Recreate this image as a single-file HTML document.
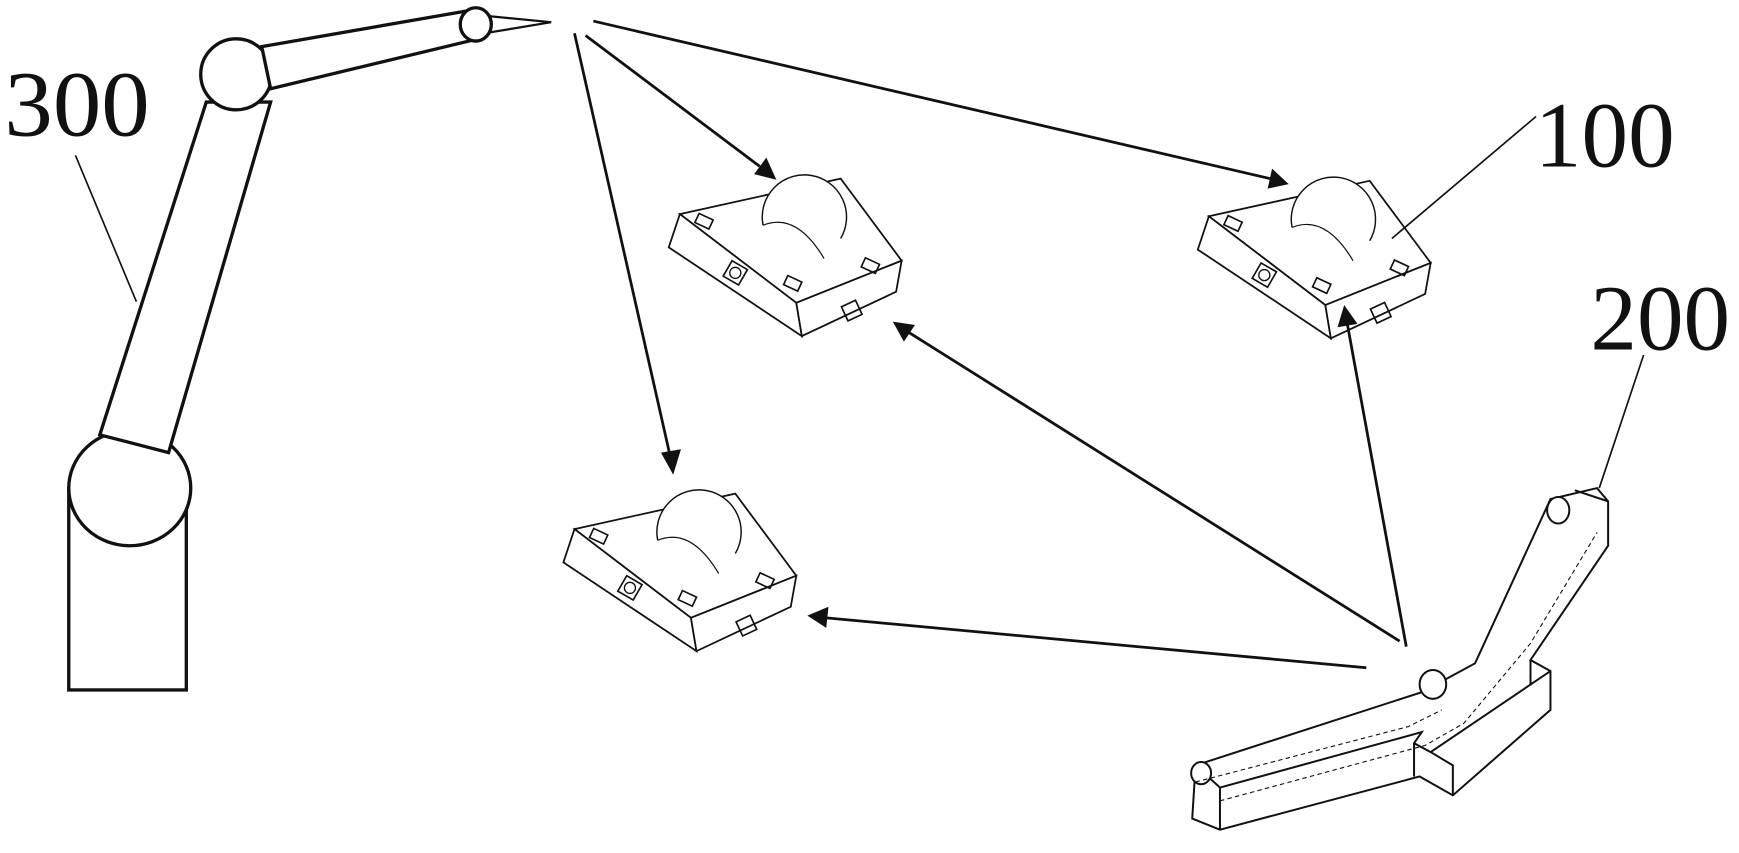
<!DOCTYPE html>
<html><head><meta charset="utf-8"><style>
html,body{margin:0;padding:0;background:#fff;}
svg{display:block;}
text{font-family:"Liberation Serif",serif;fill:#111;}
</style></head><body>
<svg width="1739" height="853" viewBox="0 0 1568 769" preserveAspectRatio="none" xmlns="http://www.w3.org/2000/svg">
<defs>
<g id="dev">
 <polygon points="0,0 145,-32 200,42 105,80" fill="#fff" stroke="#111" stroke-width="1.6"/>
 <polygon points="0,0 105,80 110,110 -10,30" fill="#fff" stroke="#111" stroke-width="1.6"/>
 <polygon points="105,80 200,42 195,70 110,110" fill="#fff" stroke="#111" stroke-width="1.6"/>
 <path d="M75,10 A38,38 0 1 1 145,22" fill="#fff" stroke="#111" stroke-width="1.3"/>
 <path d="M75,10 Q105,-2 130,40" fill="none" stroke="#111" stroke-width="1.1"/>
 <rect x="15" y="2" width="14" height="9" fill="none" stroke="#111" stroke-width="1.5" transform="rotate(25 22 6)"/>
 <rect x="95" y="58" width="14" height="9" fill="none" stroke="#111" stroke-width="1.5" transform="rotate(25 102 62)"/>
 <rect x="165" y="42" width="14" height="9" fill="none" stroke="#111" stroke-width="1.5" transform="rotate(25 172 46)"/>
 <rect x="42" y="45" width="16" height="16" fill="none" stroke="#111" stroke-width="1.5" transform="rotate(30 50 53)"/>
 <circle cx="50" cy="53" r="5" fill="none" stroke="#111" stroke-width="1.2"/>
 <rect x="148" y="80" width="14" height="14" fill="none" stroke="#111" stroke-width="1.5" transform="rotate(-25 155 87)"/>
</g>
</defs>

<g fill="#fff" stroke="#111" stroke-width="3">
 <rect x="62" y="440" width="106" height="182"/>
 <ellipse cx="117" cy="440" rx="55" ry="52"/>
 <polygon points="186,92 244,92 152,408 90,392"/>
 <circle cx="213" cy="67" r="32"/>
 <polygon points="236,42 420,10 427,36 244,80"/>
 <polygon points="435,14 497,20 437,30" stroke-width="2"/>
 <ellipse cx="429" cy="22" rx="14" ry="15"/>
</g>
<text x="0" y="0" font-size="84" transform="translate(4,122) scale(1.04,1)">300</text>
<line x1="68" y1="140" x2="123" y2="272" stroke="#111" stroke-width="1.5"/>

<use href="#dev" transform="translate(613,193)"/>
<use href="#dev" transform="translate(1090,195)"/>
<use href="#dev" transform="translate(518,477)"/>

<text x="0" y="0" font-size="84" transform="translate(1384,150) scale(1.0,1)">100</text>
<line x1="1385" y1="105" x2="1255" y2="215" stroke="#111" stroke-width="1.5"/>
<text x="0" y="0" font-size="84" transform="translate(1434,315) scale(1.0,1)">200</text>
<line x1="1482" y1="320" x2="1442" y2="440" stroke="#111" stroke-width="1.5"/>

<g stroke="#111" stroke-width="2.5" fill="none">
 <line x1="518" y1="30" x2="604" y2="410"/>
 <line x1="528" y1="32" x2="685" y2="150"/>
 <line x1="535" y1="19" x2="1145" y2="161"/>
 <line x1="1232" y1="602" x2="745" y2="557"/>
 <line x1="1262" y1="578" x2="820" y2="300"/>
 <line x1="1268" y1="583" x2="1215" y2="293"/>
</g>
<g fill="#111">
 <polygon points="607,428 596,408 614,405"/>
 <polygon points="700,162 680,157 691,142"/>
 <polygon points="1162,166 1143,170 1147,152"/>
 <polygon points="728,555 747,547 745,566"/>
 <polygon points="805,290 825,293 815,308"/>
 <polygon points="1212,275 1206,295 1224,292"/>
</g>

<g fill="#fff" stroke="#111" stroke-width="1.8">
 <polygon points="1078,690 1282,624 1330,598 1398,450 1440,440 1450,452 1450,492 1380,595 1398,605 1398,640 1310,717 1280,700 1100,748 1075,738"/>
 <polyline points="1100,748 1100,710 1078,690" fill="none"/>
 <polyline points="1100,710 1282,660 1275,670 1275,700" fill="none"/>
 <polyline points="1275,670 1290,678 1310,690 1310,717" fill="none"/>
 <polyline points="1290,678 1398,605" fill="none"/>
 <polyline points="1380,595 1380,618" fill="none"/>
 <polyline points="1420,442 1450,452" fill="none"/>
 <ellipse cx="1292" cy="617" rx="12" ry="13"/>
 <ellipse cx="1405" cy="460" rx="10" ry="12"/>
 <ellipse cx="1083" cy="697" rx="9" ry="10"/>
</g>
<g stroke="#111" stroke-width="1" fill="none" stroke-dasharray="4,3">
 <polyline points="1100,722 1285,672 1320,652 1380,580 1440,480"/>
 <polyline points="1078,705 1270,655 1300,640"/>
</g>
</svg>
</body></html>
